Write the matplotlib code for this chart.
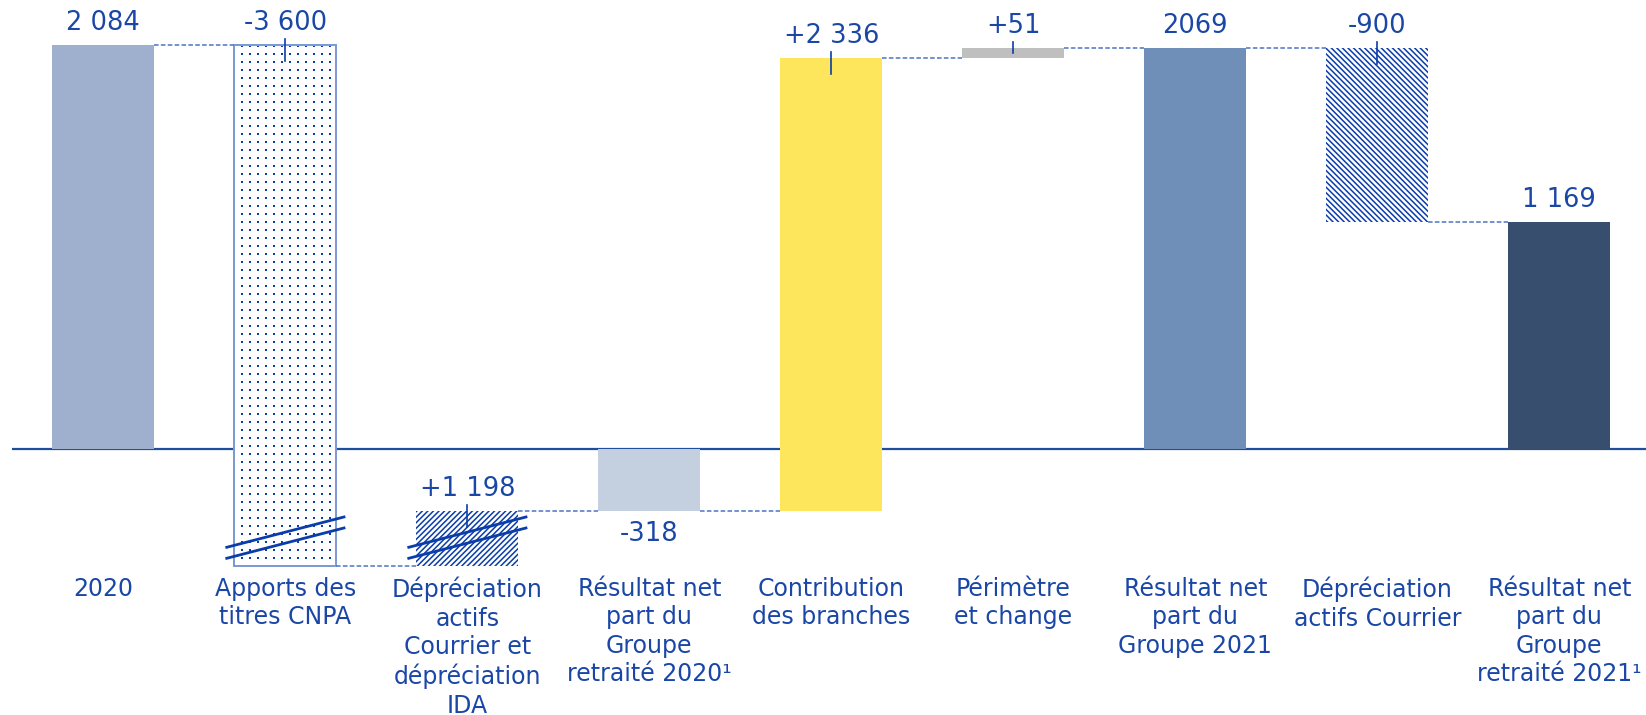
import numpy as np
import matplotlib
matplotlib.use("Agg")
import matplotlib.pyplot as plt

# ---------------------------------------------------------------------------
# data
# ---------------------------------------------------------------------------
categories = [
    "2020",
    "Apports des\ntitres CNPA",
    "Dépréciation\nactifs\nCourrier et\ndépréciation\nIDA",
    "Résultat net\npart du\nGroupe\nretraité 2020\u00b9",
    "Contribution\ndes branches",
    "Périmètre\net change",
    "Résultat net\npart du\nGroupe 2021",
    "Dépréciation\nactifs Courrier",
    "Résultat net\npart du\nGroupe\nretraité 2021\u00b9",
]
values = [2084, -3600, 1198, -318, 2336, 51, 2069, -900, 1169]
kinds = ["total", "delta", "delta", "total", "delta", "delta", "total", "delta", "total"]
value_labels = ["2 084", "-3 600", "+1 198", "-318", "+2 336", "+51", "2069", "-900", "1 169"]

# ---------------------------------------------------------------------------
# styles
# ---------------------------------------------------------------------------
TEXT_BLUE = "#1A47A6"
LINE_BLUE = "#1F4E9E"
HATCH_BLUE = "#0B3DAA"
DASH_BLUE = "#4C74C6"

bar_styles = [
    dict(color="#9EB0CD"),
    dict(color="white", dots=True, outline="#7A98D4"),
    dict(color="white", hatch="//////"),
    dict(color="#C4CFE0"),
    dict(color="#FDE65C"),
    dict(color="#BFBFBF"),
    dict(color="#6F8EB8"),
    dict(color="white", hatch="\\\\\\\\\\\\"),
    dict(color="#374E6E"),
]

FLOOR = -600          # display floor for the broken bars
BAR_W = 0.56

W, H = 1646, 715
plt.rcParams["hatch.linewidth"] = 1.1
plt.rcParams["font.family"] = ["DejaVu Sans"]

fig = plt.figure(figsize=(W / 100, H / 100), dpi=100)
ax = fig.add_axes([12 / W, 0, 1 - 12 / W, 1])
YMAX, YMIN = 2316, -1370
ax.set_xlim(-0.502, 8.476)
ax.set_ylim(YMIN, YMAX)
ax.axis("off")

u = (YMAX - YMIN) / H            # data units per pixel (vertical)
ux = (8.476 + 0.502) / (W - 12)  # data units per pixel (horizontal)

# running totals
starts, ends = [], []
level = 0
for v, k in zip(values, kinds):
    if k == "total":
        s, e = 0, v
    else:
        s, e = level, level + v
    starts.append(s)
    ends.append(e)
    level = e

ax.axhline(0, color=LINE_BLUE, lw=1.6, zorder=1)

x = np.arange(len(values))
for i, (s, e) in enumerate(zip(starts, ends)):
    lo, hi = min(s, e), max(s, e)
    broken = lo < FLOOR
    lo = max(lo, FLOOR)
    st = bar_styles[i]
    if "hatch" in st:
        ax.bar(x[i], hi - lo, bottom=lo, width=BAR_W, facecolor="white",
               edgecolor=HATCH_BLUE, hatch=st["hatch"], lw=0, zorder=2)
    elif st.get("dots"):
        bc = ax.bar(x[i], hi - lo, bottom=lo, width=BAR_W, facecolor="white",
                    lw=0, zorder=2)
        # square grid of small dots, 8 px apart
        gx = np.arange(x[i] - BAR_W / 2 + 7.7 * ux, x[i] + BAR_W / 2, 8 * ux)
        gy = np.arange(hi - 1 * u, lo, -8 * u)
        GX, GY = np.meshgrid(gx, gy)
        sc = ax.scatter(GX.ravel(), GY.ravel(), s=4, marker="s",
                        color=HATCH_BLUE, lw=0, zorder=2.5)
        sc.set_clip_path(bc.patches[0])
        ax.bar(x[i], hi - lo, bottom=lo, width=BAR_W, facecolor="none",
               edgecolor=st["outline"], lw=1.4, zorder=3)
    else:
        ax.bar(x[i], hi - lo, bottom=lo, width=BAR_W, color=st["color"], lw=0, zorder=2)

    # break marks
    if broken:
        xl = x[i] - BAR_W / 2 - 9 * ux
        xr = x[i] + BAR_W / 2 + 9 * ux
        for off in (7, 18):
            ax.plot([xl, xr], [FLOOR + off * u, FLOOR + (off + 31) * u],
                    color=HATCH_BLUE, lw=2.0, zorder=5, solid_capstyle="butt")

    # value labels
    if kinds[i] == "total" and values[i] < 0:
        ax.text(x[i], lo - 23 * u, value_labels[i], ha="center", va="center",
                fontsize=18.5, color=TEXT_BLUE, zorder=6)
    else:
        ax.text(x[i], hi + 22 * u, value_labels[i], ha="center", va="center",
                fontsize=18.5, color=TEXT_BLUE, zorder=6)

    # small tick mark on variation bars
    if kinds[i] == "delta":
        down = min(16 * u, (hi - lo) / 2)
        ax.plot([x[i], x[i]], [hi + 6 * u, hi - down], color=HATCH_BLUE,
                lw=1.2, zorder=6)

    # category labels
    ax.text(x[i], YMAX - 577 * u, categories[i], ha="center", va="top",
            fontsize=17, color=TEXT_BLUE, linespacing=1.23)

# dashed connectors
for i in range(len(values) - 1):
    lvl = max(ends[i], FLOOR)
    ax.plot([x[i] + BAR_W / 2, x[i + 1] - BAR_W / 2], [lvl, lvl],
            color=DASH_BLUE, lw=1.1, ls=(0, (3, 1.5)), zorder=4)

fig.savefig("out.png", dpi=100)
